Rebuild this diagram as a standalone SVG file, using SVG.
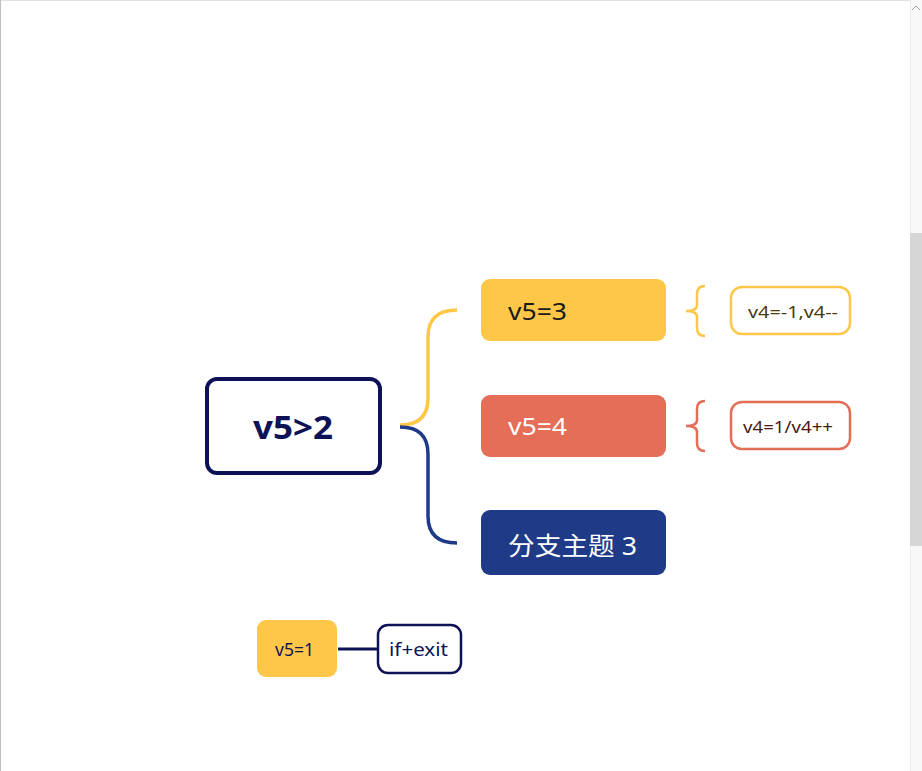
<svg xmlns="http://www.w3.org/2000/svg" width="922" height="771" viewBox="0 0 922 771">
<style>
.t{font-family:"Noto Sans","Open Sans","Noto Sans CJK SC",sans-serif}
.lnk{fill:none;stroke-linecap:butt}
</style>
<rect x="0" y="0" width="922" height="771" fill="#ffffff"/>
<line x1="0" y1="0.5" x2="922" y2="0.5" stroke="#e2e2e2" stroke-width="1"/>
<line x1="0.5" y1="0" x2="0.5" y2="771" stroke="#bdbdbd" stroke-width="1"/>
<rect x="910" y="0" width="12" height="771" fill="#f8f8f8"/>
<line x1="910.5" y1="0" x2="910.5" y2="771" stroke="#ececec"/>
<rect x="910" y="233" width="12" height="313" fill="#d6d6d6"/>
<path d="M912,10 L916,6 L920,10" fill="none" stroke="#a0a0a0" stroke-width="1"/>

<g id="connectors">
<path class="lnk" d="M400,425 Q428,425 428,398 L428,337 Q428,310 457,310" stroke="#ffc748" stroke-width="3.5"/>
<path class="lnk" d="M400,427 Q428,427 428,454 L428,516 Q428,543 457,543" stroke="#1f3a87" stroke-width="3.5"/>
<path class="lnk" d="M705,286 Q697,286 697,294 L697,305 Q697,311 686,311 Q697,311 697,317 L697,328 Q697,336 705,336" stroke="#ffc748" stroke-width="2.5"/>
<path class="lnk" d="M705,401 Q697,401 697,409 L697,420 Q697,426 686,426 Q697,426 697,432 L697,443 Q697,451 705,451" stroke="#e46e58" stroke-width="2.5"/>
<line x1="338" y1="649" x2="378" y2="649" stroke="#0d1257" stroke-width="3"/>
</g>

<g id="root">
<rect x="207" y="379" width="173" height="94" rx="10" fill="#ffffff" stroke="#0d1257" stroke-width="4"/>
<text class="t" x="253" y="439" font-size="33" font-weight="bold" fill="#0d1257" textLength="80" lengthAdjust="spacingAndGlyphs">v5&gt;2</text>
</g>

<g id="n1">
<rect x="481" y="279" width="185" height="62" rx="9" fill="#ffc748"/>
<text class="t" x="508" y="320" font-size="23" fill="#1a1a1a" textLength="59" lengthAdjust="spacingAndGlyphs">v5=3</text>
</g>
<g id="n2">
<rect x="481" y="395" width="185" height="62" rx="9" fill="#e46e58"/>
<text class="t" x="508" y="435" font-size="23" fill="#ffffff" textLength="59" lengthAdjust="spacingAndGlyphs">v5=4</text>
</g>
<g id="n3">
<rect x="481" y="510" width="185" height="65" rx="9" fill="#1f3a87"/>
<text class="t" x="508" y="555" font-size="25" fill="#ffffff" textLength="129" lengthAdjust="spacingAndGlyphs">分支主题 3</text>
</g>

<g id="c1">
<rect x="731" y="287" width="119" height="47" rx="11" fill="#ffffff" stroke="#ffc748" stroke-width="2.5"/>
<text class="t" x="748" y="318" font-size="17" fill="#4a3a10" textLength="90" lengthAdjust="spacingAndGlyphs">v4=-1,v4--</text>
</g>
<g id="c2">
<rect x="731" y="402" width="119" height="47" rx="11" fill="#ffffff" stroke="#e46e58" stroke-width="2.5"/>
<text class="t" x="743" y="433" font-size="17" fill="#4a1a10" textLength="90" lengthAdjust="spacingAndGlyphs">v4=1/v4++</text>
</g>

<g id="n4">
<rect x="257" y="620" width="80" height="57" rx="9" fill="#ffc748"/>
<text class="t" x="275" y="656" font-size="18" fill="#0d1257" textLength="39" lengthAdjust="spacingAndGlyphs">v5=1</text>
</g>
<g id="n5">
<rect x="378" y="625" width="83" height="48" rx="10" fill="#ffffff" stroke="#0d1257" stroke-width="2.5"/>
<text class="t" x="389" y="656" font-size="18" fill="#0d1257" textLength="59" lengthAdjust="spacingAndGlyphs">if+exit</text>
</g>
</svg>
